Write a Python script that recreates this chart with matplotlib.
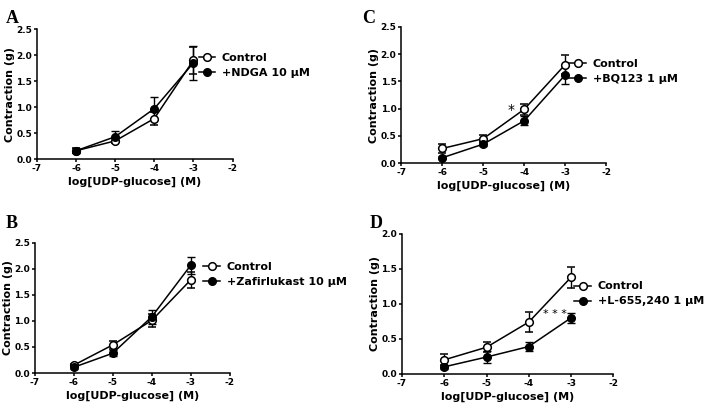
import matplotlib.pyplot as plt
from matplotlib.lines import Line2D
import numpy as np

conc = [-6, -5, -4, -3]

# panel A
a_ctrl = [0.16, 0.35, 0.78, 1.90]
a_ctrl_err = [0.05, 0.05, 0.12, 0.26]
a_trt = [0.16, 0.43, 0.97, 1.85]
a_trt_err = [0.05, 0.11, 0.22, 0.32]

# panel B
b_ctrl = [0.15, 0.54, 1.01, 1.79]
b_ctrl_err = [0.03, 0.08, 0.12, 0.15]
b_trt = [0.11, 0.38, 1.08, 2.07]
b_trt_err = [0.03, 0.06, 0.13, 0.16]

# panel C
c_ctrl = [0.27, 0.45, 0.99, 1.81]
c_ctrl_err = [0.08, 0.07, 0.10, 0.18]
c_trt = [0.10, 0.35, 0.78, 1.62]
c_trt_err = [0.03, 0.04, 0.08, 0.16]

# panel D
d_ctrl = [0.20, 0.38, 0.74, 1.38]
d_ctrl_err = [0.08, 0.07, 0.14, 0.15]
d_trt = [0.10, 0.24, 0.39, 0.80]
d_trt_err = [0.03, 0.08, 0.07, 0.07]

panels = [
    # letter, rect, ctrl, ctrl_err, trt, trt_err, label, ymax, yticks, letter pos, legend pos
    ("A", [0.052, 0.611, 0.276, 0.318], a_ctrl, a_ctrl_err, a_trt, a_trt_err,
     "+NDGA 10 \u00b5M", 2.5, np.arange(0, 2.6, 0.5), (0.008, 0.975), (0.280, 0.870)),
    ("B", [0.049, 0.088, 0.275, 0.318], b_ctrl, b_ctrl_err, b_trt, b_trt_err,
     "+Zafirlukast 10 \u00b5M", 2.5, np.arange(0, 2.6, 0.5), (0.008, 0.475), (0.287, 0.360)),
    ("C", [0.566, 0.601, 0.289, 0.333], c_ctrl, c_ctrl_err, c_trt, c_trt_err,
     "+BQ123 1 \u00b5M", 2.5, np.arange(0, 2.6, 0.5), (0.511, 0.975), (0.803, 0.855)),
    ("D", [0.567, 0.086, 0.298, 0.342], d_ctrl, d_ctrl_err, d_trt, d_trt_err,
     "+L-655,240 1 \u00b5M", 2.0, np.arange(0, 2.1, 0.5), (0.521, 0.475), (0.810, 0.312)),
]

fig = plt.figure(figsize=(7.09, 4.09), dpi=100)

for letter, rect, ctrl, ctrl_err, trt, trt_err, lab, ymax, yticks, lpos, legpos in panels:
    ax = fig.add_axes(rect)
    ax.errorbar(conc, ctrl, yerr=ctrl_err, color="black", lw=1.1, marker="o",
                ms=5.5, mfc="white", mec="black", mew=1.1, capsize=3, elinewidth=1.0,
                capthick=1.0, zorder=3)
    ax.errorbar(conc, trt, yerr=trt_err, color="black", lw=1.1, marker="o",
                ms=5.5, mfc="black", mec="black", capsize=3, elinewidth=1.0,
                capthick=1.0, zorder=3)
    ax.set_xlim(-7, -2)
    ax.set_ylim(0, ymax)
    ax.set_yticks(yticks)
    ax.set_yticklabels([f"{v:.1f}" for v in yticks])
    ax.set_xticks(np.arange(-7, -1, 1))
    ax.set_xticklabels([str(v) for v in range(-7, -1)])
    for s in ["top", "right"]:
        ax.spines[s].set_visible(False)
    for s in ["left", "bottom"]:
        ax.spines[s].set_linewidth(1.1)
    ax.tick_params(direction="out", length=2.5, width=1.1, labelsize=6.5, pad=1)
    for t in ax.get_xticklabels() + ax.get_yticklabels():
        t.set_fontweight("bold")
    ax.set_xlabel("log[UDP-glucose] (M)", fontsize=8, fontweight="bold", labelpad=3)
    ax.set_ylabel("Contraction (g)", fontsize=8, fontweight="bold", labelpad=1)
    fig.text(lpos[0], lpos[1], letter, fontsize=13, fontweight="bold",
             family="Liberation Serif", va="top", ha="left")
    h1 = Line2D([], [], color="black", lw=1.1, marker="o", ms=5.5, mfc="white", mew=1.1)
    h2 = Line2D([], [], color="black", lw=1.1, marker="o", ms=5.5, mfc="black")
    fig.legend([h1, h2], ["Control", lab], loc="upper left", bbox_to_anchor=legpos,
               frameon=False, prop={"weight": "bold", "size": 8}, handlelength=1.5,
               handletextpad=0.6, labelspacing=0.45, borderaxespad=0, borderpad=0)
    if letter == "C":
        ax.text(-4.31, 0.97, "*", fontsize=10, ha="center", va="center")
    if letter == "D":
        ax.text(-3.38, 0.86, "* * *", fontsize=8, ha="center", va="center")

fig.savefig("out.png", dpi=100)
